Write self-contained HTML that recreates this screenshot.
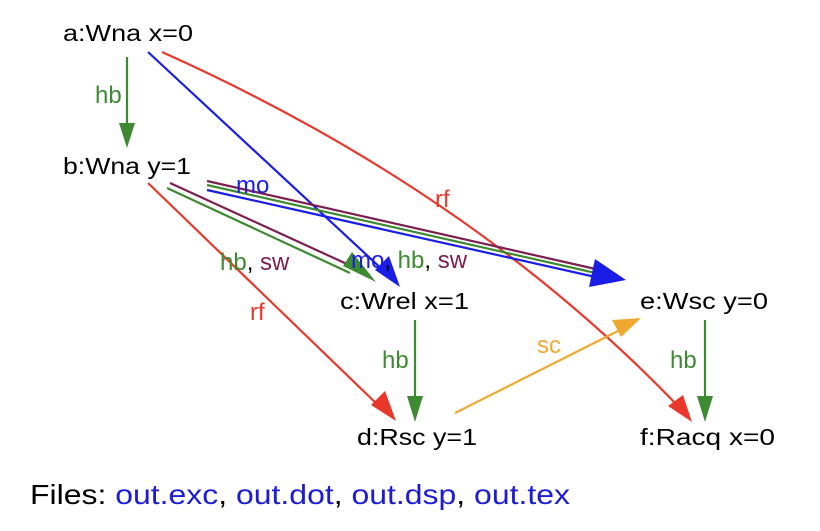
<!DOCTYPE html>
<html><head><meta charset="utf-8"><style>
body{margin:0;background:#fff;width:820px;height:526px;overflow:hidden}
svg{font-family:"Liberation Sans",Arial,sans-serif}
</style></head><body>
<svg width="820" height="526" viewBox="0 0 820 526">
<g font-size="23" fill="#000">
<text x="63" y="41" textLength="130" lengthAdjust="spacingAndGlyphs">a:Wna x=0</text>
<text x="63" y="174" textLength="128" lengthAdjust="spacingAndGlyphs">b:Wna y=1</text>
<text x="340" y="309" textLength="129" lengthAdjust="spacingAndGlyphs">c:Wrel x=1</text>
<text x="640" y="309" textLength="128" lengthAdjust="spacingAndGlyphs">e:Wsc y=0</text>
<text x="357" y="445" textLength="120" lengthAdjust="spacingAndGlyphs">d:Rsc y=1</text>
<text x="640" y="445" textLength="135" lengthAdjust="spacingAndGlyphs">f:Racq x=0</text>
</g>
<g fill="none" stroke-width="2.2">
<path d="M127,57L127,126" stroke="#3e8a33"/>
<polygon points="119,123 135,123 127,148" fill="#3e8a33"/>
<path d="M148,52L385,272" stroke="#1a1de6"/>
<polygon points="375,270 389,256 400,287" fill="#1a1de6"/>
<path d="M162,52Q470,190 676,404" stroke="#e8382b"/>
<polygon points="668,406 683,395 692,422" fill="#e8382b"/>
<path d="M148,183L380,407" stroke="#e8382b"/>
<polygon points="371,405 385,391 396,421" fill="#e8382b"/>
<path d="M170,183L360,270" stroke="#7a1f4f"/>
<path d="M167,188L350,273" stroke="#3e8a33"/>
<polygon points="343,266 352,252 376,282" fill="#3e8a33"/>
<path d="M207,181L600,270" stroke="#7a1f4f"/>
<path d="M207,185L600,274" stroke="#3e8a33"/>
<path d="M207,190L600,278" stroke="#1a1de6"/>
<polygon points="595,259 589,287 626,280" fill="#1a1de6"/>
<path d="M415,320L415,400" stroke="#3e8a33"/>
<polygon points="407,396 423,396 415,422" fill="#3e8a33"/>
<path d="M455,413L620,330" stroke="#f0a830"/>
<polygon points="612,320 621,337 641,318" fill="#f0a830"/>
<path d="M705,320L705,400" stroke="#3e8a33"/>
<polygon points="697,396 713,396 705,422" fill="#3e8a33"/>
</g>
<g font-size="24">
<text x="95" y="103" fill="#3e8a33">hb</text>
<text x="236" y="193" fill="#1a1de6">mo</text>
<text x="435" y="207" fill="#e8382b">rf</text>
<text x="220" y="270"><tspan fill="#3e8a33">hb</tspan><tspan fill="#000">,</tspan><tspan fill="#7a1f4f"> sw</tspan></text>
<text x="351" y="268"><tspan fill="#1a1de6">mo</tspan><tspan fill="#000">,</tspan><tspan fill="#3e8a33"> hb</tspan><tspan fill="#000">,</tspan><tspan fill="#7a1f4f"> sw</tspan></text>
<text x="250" y="320" fill="#e8382b">rf</text>
<text x="382" y="368" fill="#3e8a33">hb</text>
<text x="537" y="353" fill="#f0a830">sc</text>
<text x="670" y="368" fill="#3e8a33">hb</text>
</g>
<text x="30" y="504" font-size="28" textLength="540" lengthAdjust="spacingAndGlyphs"><tspan fill="#000">Files: </tspan><tspan fill="#1c1cd6">out.exc</tspan><tspan fill="#000">, </tspan><tspan fill="#1c1cd6">out.dot</tspan><tspan fill="#000">, </tspan><tspan fill="#1c1cd6">out.dsp</tspan><tspan fill="#000">, </tspan><tspan fill="#1c1cd6">out.tex</tspan></text>
</svg>
</body></html>
